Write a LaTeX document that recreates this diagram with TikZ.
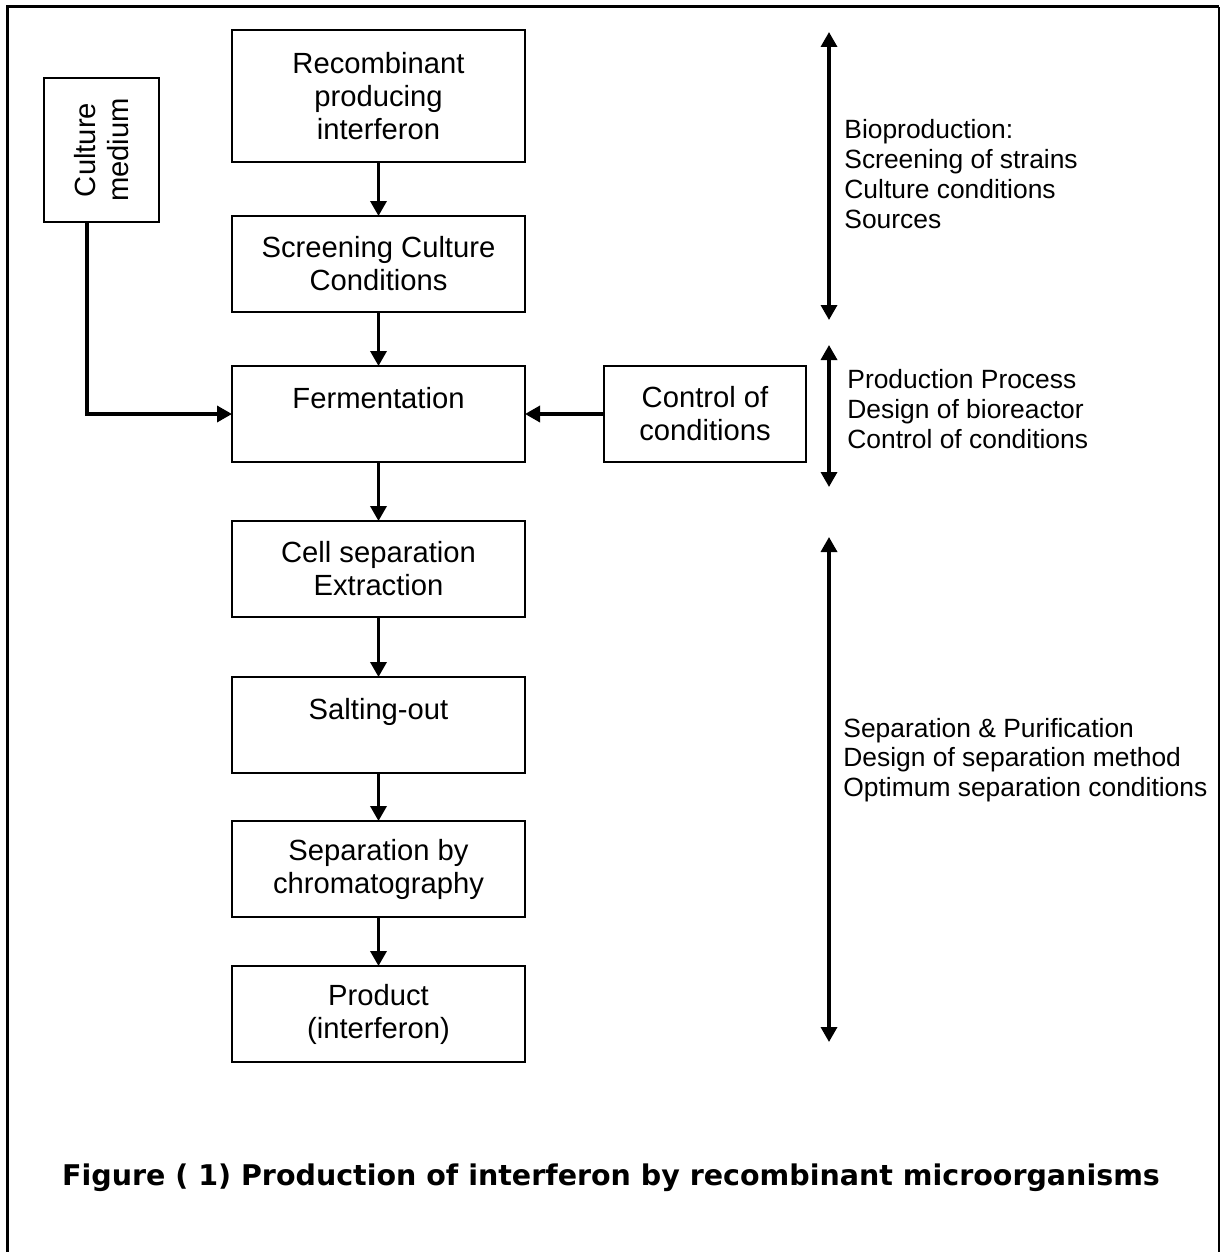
\documentclass[tikz,border=0pt]{standalone}
\usepackage{fontspec}
\setmainfont{Liberation Sans}
\newfontfamily\captionfont{DejaVu Sans}
\usetikzlibrary{arrows.meta,positioning}

\begin{document}
\begin{tikzpicture}[x=0.5pt,y=-0.5pt,
  every node/.style={align=center,font=\fontsize{14.6}{16.5}\selectfont},
  stepbox/.style={draw,line width=1.2pt,minimum width=146.5pt,minimum height=48pt,inner sep=0pt,outer sep=0pt},
  flow/.style={line width=1.7pt,-{Triangle[length=7.5pt,width=8pt]}},
  span/.style={line width=1.7pt,{Triangle[length=7.5pt,width=8pt]}-{Triangle[length=7.5pt,width=8pt]}},
  note/.style={anchor=west,align=left,inner sep=0pt,font=\fontsize{13.2}{14.9}\selectfont}]
\useasboundingbox (0,0) rectangle (1223,1252);
\draw [line width=1.5pt] (7,1252) -- (7,7) -- (1219,7);
\draw [line width=0.7pt] (1219,7) -- (1219,1252);
\node [stepbox,minimum height=66pt] (Recombinant) at (378.5,96) {Recombinant\\producing\\interferon};
\node [stepbox,below=27pt of Recombinant] (Screening) {Screening Culture\\Conditions};
\node [stepbox,below=27pt of Screening] (Fermentation) {Fermentation\\\mbox{}};
\node [stepbox,below=29.5pt of Fermentation] (CellSeparation) {Cell separation\\Extraction};
\node [stepbox,below=30pt of CellSeparation] (SaltingOut) {Salting-out\\\mbox{}};
\node [stepbox,below=24pt of SaltingOut] (Chromatography) {Separation by\\chromatography};
\node [stepbox,below=24.5pt of Chromatography] (Product) {Product\\(interferon)};
\node [stepbox,minimum width=101pt,right=39.5pt of Fermentation] (Control) {Control of\\conditions};
\node [stepbox,rotate=90,minimum width=72pt,minimum height=57.5pt] (CultureMedium) at (101.5,150) {Culture\\medium};
\draw [flow] (Recombinant) -- (Screening);
\draw [flow] (Screening) -- (Fermentation);
\draw [flow] (Fermentation) -- (CellSeparation);
\draw [flow] (CellSeparation) -- (SaltingOut);
\draw [flow] (SaltingOut) -- (Chromatography);
\draw [flow] (Chromatography) -- (Product);
\draw [flow] (Control) -- (Fermentation);
\draw [flow] ([xshift=-7.25pt]CultureMedium.west) |- (Fermentation.west);
\coordinate (BioTop) at (829,32);
\coordinate (BioBottom) at (829,320);
\coordinate (ProcessTop) at (829,345);
\coordinate (ProcessBottom) at (829,487);
\coordinate (SeparationTop) at (829,537);
\coordinate (SeparationBottom) at (829,1042);
\draw [span] (BioTop) -- (BioBottom);
\draw [span] (ProcessTop) -- (ProcessBottom);
\draw [span] (SeparationTop) -- (SeparationBottom);
\node [note] (BioNote) at (844,174) {Bioproduction:\\Screening of strains\\Culture conditions\\Sources};
\node [note] (ProcessNote) at (847,409) {Production Process\\Design of bioreactor\\Control of conditions};
\node [note] (SeparationNote) at (843,760) {Separation \& Purification\\Design of separation method\\Optimum separation conditions};
\node [font=\captionfont\bfseries\fontsize{14.25}{17}\selectfont] (Caption) at (611,1178) {Figure ( 1) Production of interferon by recombinant microorganisms};
\end{tikzpicture}
\end{document}
